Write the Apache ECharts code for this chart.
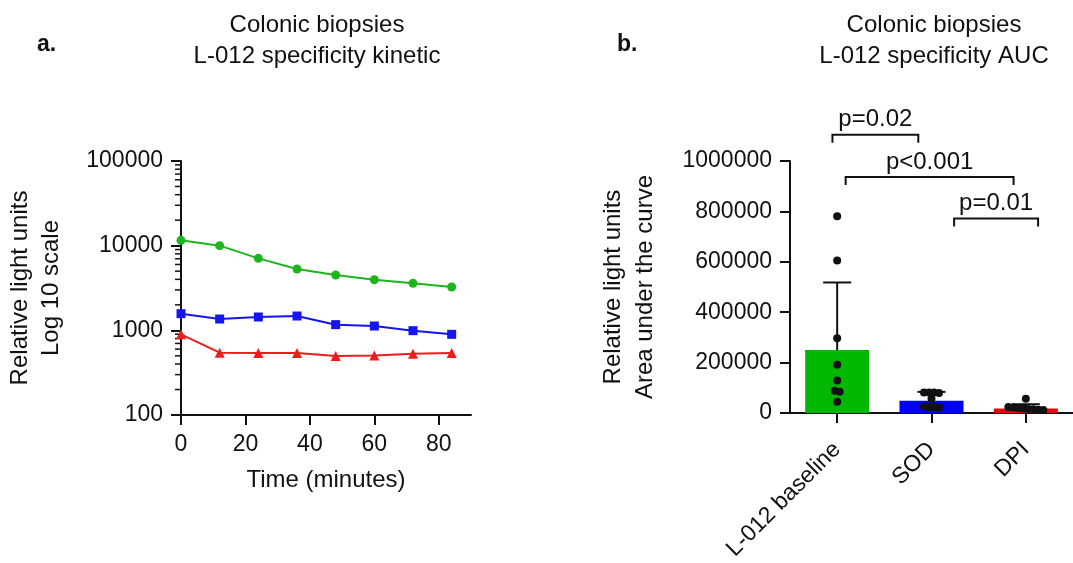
<!DOCTYPE html>
<html lang="en">

<head>
    <title>L-012 specificity</title>
    <meta charset="UTF-8">
    <style type="text/css">
        html,
        body {
            margin: 0px;
            background: #fff;
        }
    </style>
    <script type="text/javascript" src="https://cdn.jsdelivr.net/npm/echarts@6/dist/echarts.min.js"></script>
</head>

<body onload="draw()">
    <div id="chart" style="width: 1073px; height: 563px;"></div>
</body>

<script type="text/javascript">
    // panel a: kinetic, log scale
    var timeMin = [0, 12, 24, 36, 48, 60, 72, 84];
    var baselineKinetic = [11560, 10000, 7080, 5300, 4510, 3960, 3590, 3250];
    var sodKinetic = [1573, 1360, 1437, 1476, 1167, 1125, 991, 897];
    var dpiKinetic = [897, 545, 540, 540, 497, 506, 530, 540];
    var timeTicks = [0, 20, 40, 60, 80];
    var logTicks = [100, 1000, 10000, 100000];

    // panel b: AUC
    var groups = ['L-012 baseline', 'SOD', 'DPI'];
    var aucMean = [250000, 48600, 18500];
    var aucSd = [268000, 35400, 16500];
    var baselinePoints = [781000, 605000, 297000, 192000, 129000, 88000, 85000, 45000];
    var sodPoints = [82000, 82000, 82000, 80000, 57000, 26000, 24000, 24000, 22000];
    var dpiPoints = [57000, 24000, 22000, 20000, 18000, 16000, 15000, 13000, 12000];
    var aucTicks = [0, 200000, 400000, 600000, 800000, 1000000];
    // [from category, to category, level, label]
    var brackets = [
        [-0.05, 0.86, 1104000, 'p=0.02'],
        [0.09, 1.87, 937000, 'p<0.001'],
        [1.24, 2.13, 772000, 'p=0.01']
    ];

    var FONT = 'Liberation Sans, Arial, sans-serif';
    var INK = '#111';

    // spread dots that sit at nearly the same height, like a column scatter
    function swarm(values, gap, step) {
        var sorted = values.map(function (v, i) { return { v: v, i: i }; })
            .sort(function (a, b) { return b.v - a.v; });
        var out = new Array(values.length);
        var cluster = [];
        function flush() {
            cluster.forEach(function (p, k) { out[p.i] = (k - (cluster.length - 1) / 2) * step; });
            cluster = [];
        }
        sorted.forEach(function (p) {
            if (cluster.length && cluster[cluster.length - 1].v - p.v > gap) flush();
            cluster.push(p);
        });
        flush();
        return out;
    }

    function draw() {
        var chart = echarts.init(document.getElementById('chart'));

        var minorLog = [];
        for (var d = 100; d < 100000; d *= 10) {
            for (var m = 2; m <= 9; m++) minorLog.push(m * d);
        }

        var dots = [];
        [baselinePoints, sodPoints, dpiPoints].forEach(function (pts, gi) {
            var off = swarm(pts, 20000, 5);
            pts.forEach(function (v, k) {
                dots.push({ value: [gi, v], symbolOffset: [off[k], 0] });
            });
        });

        function lineSeries(name, values, color, symbol) {
            return {
                name: name,
                type: 'line',
                xAxisIndex: 0,
                yAxisIndex: 0,
                data: timeMin.map(function (t, i) { return [t, values[i]]; }),
                symbol: symbol,
                symbolSize: symbol === 'triangle' ? 10 : 9,
                showSymbol: true,
                lineStyle: { color: color, width: 2 },
                itemStyle: { color: color, opacity: 1 },
                animation: false
            };
        }

        var axisText = { color: INK, fontFamily: FONT, fontSize: 23 };
        var nameText = { color: INK, fontFamily: FONT, fontSize: 24, lineHeight: 31 };
        var axisLine = { show: true, lineStyle: { color: INK, width: 2 } };
        var axisTick = { show: true, inside: false, length: 10, lineStyle: { color: INK, width: 2 } };

        var option = {
            animation: false,
            backgroundColor: '#fff',
            grid: [
                { left: 181, top: 161, width: 290, height: 254 },
                { left: 790, top: 161, width: 290, height: 253 }
            ],
            graphic: [
                { type: 'text', x: 37, y: 45, style: { text: 'a.', font: 'bold 23px ' + FONT, fill: INK, textVerticalAlign: 'middle' } },
                { type: 'text', x: 617, y: 45, style: { text: 'b.', font: 'bold 23px ' + FONT, fill: INK, textVerticalAlign: 'middle' } },
                { type: 'text', x: 317, y: 10, style: { text: 'Colonic biopsies\nL-012 specificity kinetic', font: '24px ' + FONT, lineHeight: 31, fill: INK, textAlign: 'center', textVerticalAlign: 'top' } },
                { type: 'text', x: 934, y: 10, style: { text: 'Colonic biopsies\nL-012 specificity AUC', font: '24px ' + FONT, lineHeight: 31, fill: INK, textAlign: 'center', textVerticalAlign: 'top' } }
            ],
            xAxis: [
                {
                    gridIndex: 0,
                    type: 'value',
                    min: 0,
                    max: 90,
                    name: 'Time (minutes)',
                    nameLocation: 'middle',
                    nameGap: 50,
                    nameTextStyle: nameText,
                    axisLine: axisLine,
                    axisTick: Object.assign({ customValues: timeTicks }, axisTick),
                    axisLabel: Object.assign({ customValues: timeTicks, margin: 18 }, axisText),
                    splitLine: { show: false }
                },
                {
                    gridIndex: 1,
                    type: 'category',
                    data: groups,
                    axisLine: axisLine,
                    axisTick: Object.assign({ alignWithLabel: true }, axisTick),
                    axisLabel: Object.assign({ rotate: 45, margin: 33, interval: 0 }, axisText),
                    splitLine: { show: false }
                }
            ],
            yAxis: [
                {
                    gridIndex: 0,
                    type: 'log',
                    logBase: 10,
                    min: 100,
                    max: 100000,
                    name: 'Relative light units\nLog 10 scale',
                    nameLocation: 'middle',
                    nameGap: 114,
                    nameTextStyle: nameText,
                    axisLine: axisLine,
                    axisTick: Object.assign({ customValues: logTicks }, axisTick),
                    axisLabel: Object.assign({
                        customValues: logTicks, margin: 18,
                        formatter: function (v) { return String(Math.round(v)); }
                    }, axisText),
                    splitLine: { show: false }
                },
                {
                    gridIndex: 1,
                    type: 'value',
                    min: 0,
                    max: 1000000,
                    interval: 200000,
                    name: 'Relative light units\nArea under the curve',
                    nameLocation: 'middle',
                    nameGap: 129,
                    nameTextStyle: Object.assign({}, nameText, { lineHeight: 32 }),
                    axisLine: axisLine,
                    axisTick: axisTick,
                    axisLabel: Object.assign({
                        margin: 18,
                        formatter: function (v) { return String(v); }
                    }, axisText),
                    splitLine: { show: false }
                }
            ],
            series: [
                // minor ticks of the log axis
                {
                    type: 'custom',
                    xAxisIndex: 0,
                    yAxisIndex: 0,
                    clip: false,
                    silent: true,
                    data: minorLog.map(function (v) { return [0, v]; }),
                    renderItem: function (params, api) {
                        var p = api.coord([0, api.value(1)]);
                        return {
                            type: 'line',
                            shape: { x1: p[0] - 6, y1: p[1], x2: p[0], y2: p[1] },
                            style: { stroke: INK, lineWidth: 1.5 }
                        };
                    }
                },
                lineSeries('L-012 baseline', baselineKinetic, '#1db51d', 'circle'),
                lineSeries('SOD', sodKinetic, '#1414f5', 'rect'),
                lineSeries('DPI', dpiKinetic, '#ee1c1c', 'triangle'),
                {
                    type: 'bar',
                    xAxisIndex: 1,
                    yAxisIndex: 1,
                    barWidth: 64,
                    data: aucMean.map(function (v, i) {
                        return { value: v, itemStyle: { color: ['#00b800', '#0000f5', '#f50000'][i] } };
                    })
                },
                // error bars (mean + SD)
                {
                    type: 'custom',
                    xAxisIndex: 1,
                    yAxisIndex: 1,
                    clip: false,
                    z: 3,
                    data: aucMean.map(function (v, i) { return [i, v, v + aucSd[i]]; }),
                    renderItem: function (params, api) {
                        var lo = api.coord([api.value(0), api.value(1)]);
                        var hi = api.coord([api.value(0), api.value(2)]);
                        var half = 14;
                        return {
                            type: 'group',
                            children: [
                                { type: 'line', shape: { x1: lo[0], y1: lo[1], x2: hi[0], y2: hi[1] }, style: { stroke: INK, lineWidth: 2 } },
                                { type: 'line', shape: { x1: hi[0] - half, y1: hi[1], x2: hi[0] + half, y2: hi[1] }, style: { stroke: INK, lineWidth: 2 } }
                            ]
                        };
                    }
                },
                {
                    type: 'scatter',
                    xAxisIndex: 1,
                    yAxisIndex: 1,
                    z: 4,
                    symbolSize: 8,
                    itemStyle: { color: INK, opacity: 1 },
                    data: dots
                },
                // significance brackets
                {
                    type: 'custom',
                    xAxisIndex: 1,
                    yAxisIndex: 1,
                    clip: false,
                    silent: true,
                    data: brackets.map(function (b) { return [b[0], b[1], b[2]]; }),
                    renderItem: function (params, api) {
                        var band = api.size([1, 0])[0];
                        var base = api.coord([0, api.value(2)]);
                        var x1 = base[0] + api.value(0) * band;
                        var x2 = base[0] + api.value(1) * band;
                        var y = base[1];
                        var leg = 8;
                        return {
                            type: 'group',
                            children: [
                                {
                                    type: 'polyline',
                                    shape: { points: [[x1, y + leg], [x1, y], [x2, y], [x2, y + leg]] },
                                    style: { stroke: INK, lineWidth: 2, fill: null }
                                },
                                {
                                    type: 'text',
                                    x: (x1 + x2) / 2,
                                    y: y - 3,
                                    style: {
                                        text: brackets[params.dataIndex][3],
                                        font: '24px ' + FONT,
                                        fill: INK,
                                        textAlign: 'center',
                                        textVerticalAlign: 'bottom'
                                    }
                                }
                            ]
                        };
                    }
                }
            ]
        };
        chart.setOption(option);
    }
</script>

</html>
